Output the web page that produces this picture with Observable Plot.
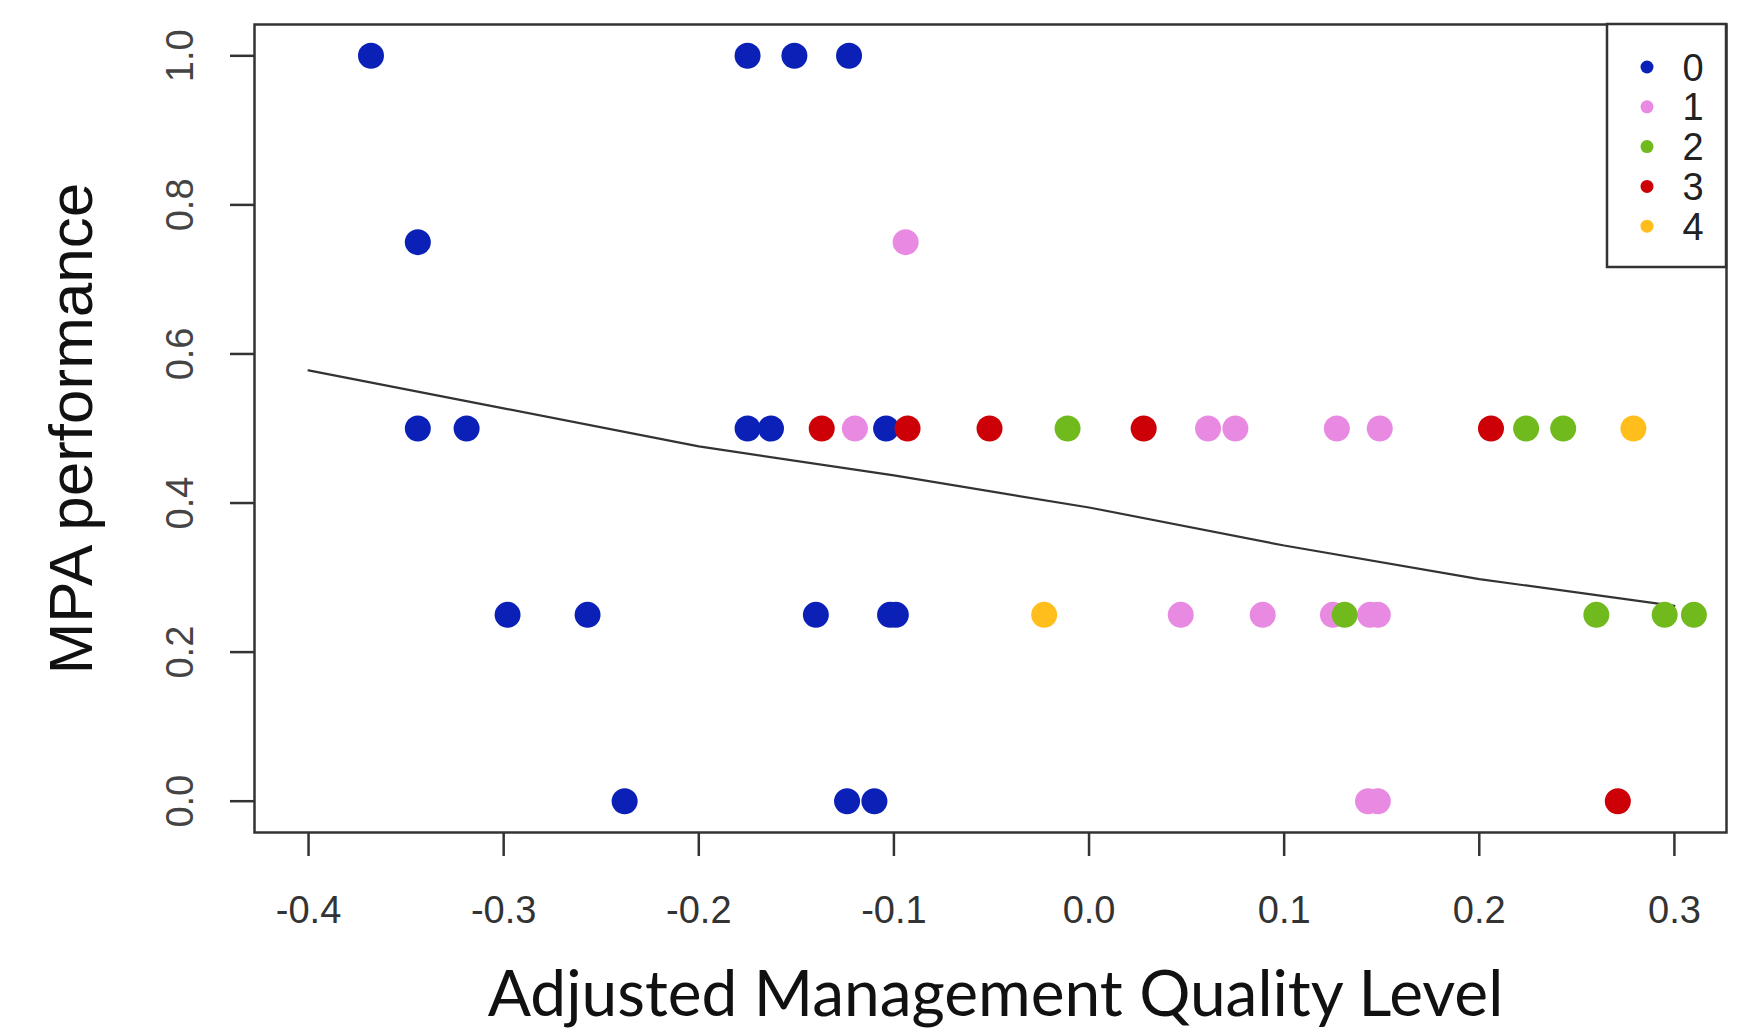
<!DOCTYPE html>
<html>
<head>
<meta charset="utf-8">
<script src="https://cdn.jsdelivr.net/npm/d3@7"></script>
<script src="https://cdn.jsdelivr.net/npm/@observablehq/plot@0.6"></script>
<style>
  html, body { margin: 0; padding: 0; background: #fff; }
  #chart svg { display: block; }
</style>
</head>
<body>
<div id="chart"></div>
<script>
// ---- data ----
const groups = ["0", "1", "2", "3", "4"];
const groupColors = ["#0a20b6", "#e88ae2", "#70ba1e", "#cc0006", "#ffbe1c"];

const group0X = [-0.368, -0.175, -0.151, -0.123, -0.344, -0.344, -0.319, -0.175, -0.163, -0.104, -0.298, -0.257, -0.140, -0.102, -0.099, -0.238, -0.124, -0.110];
const group0Y = [1, 1, 1, 1, 0.75, 0.5, 0.5, 0.5, 0.5, 0.5, 0.25, 0.25, 0.25, 0.25, 0.25, 0, 0, 0];

const group1X = [-0.094, -0.120, 0.061, 0.075, 0.127, 0.149, 0.047, 0.089, 0.125, 0.144, 0.148, 0.143, 0.148];
const group1Y = [0.75, 0.5, 0.5, 0.5, 0.5, 0.5, 0.25, 0.25, 0.25, 0.25, 0.25, 0, 0];

const group2X = [-0.011, 0.224, 0.243, 0.131, 0.260, 0.295, 0.310];
const group2Y = [0.5, 0.5, 0.5, 0.25, 0.25, 0.25, 0.25];

const group3X = [-0.137, -0.093, -0.051, 0.028, 0.206, 0.271];
const group3Y = [0.5, 0.5, 0.5, 0.5, 0.5, 0];

const group4X = [0.279, -0.023];
const group4Y = [0.5, 0.25];

const trendX = [-0.4, -0.3, -0.2, -0.1, 0.0, 0.1, 0.2, 0.3];
const trendY = [0.578, 0.527, 0.476, 0.437, 0.394, 0.343, 0.298, 0.262];

const xTicks = [-0.4, -0.3, -0.2, -0.1, 0.0, 0.1, 0.2, 0.3];
const yTicks = [0.0, 0.2, 0.4, 0.6, 0.8, 1.0];

const xTitle = "Adjusted Management Quality Level";
const yTitle = "MPA performance";

// ---- build tables ----
const groupX = [group0X, group1X, group2X, group3X, group4X];
const groupY = [group0Y, group1Y, group2Y, group3Y, group4Y];
const points = [];
groups.forEach((g, gi) => {
  groupX[gi].forEach((x, i) => points.push({x, y: groupY[gi][i], group: g}));
});
const trend = trendX.map((x, i) => ({x, y: trendY[i]}));
const fmt = d => d.toFixed(1);

const plot = Plot.plot({
  width: 1746,
  height: 1034,
  marginLeft: 254,
  marginRight: 20,
  marginTop: 24,
  marginBottom: 202,
  style: {background: "#fff", fontFamily: "'Liberation Sans', Arial, sans-serif"},
  x: {domain: [-0.4277, 0.3267]},
  y: {domain: [-0.042, 1.042]},
  color: {domain: groups, range: groupColors},
  marks: [
    Plot.axisX({ticks: xTicks, tickSize: 24, tickPadding: 40, tickFormat: fmt, fontSize: 38, color: "#333", strokeWidth: 2.5, label: null}),
    Plot.axisY({ticks: yTicks, tickSize: 24, tickFormat: () => "", color: "#333", strokeWidth: 2.5, label: null}),
    Plot.text(yTicks, {y: d => d, text: fmt, frameAnchor: "left", dx: -74, rotate: -90, fontSize: 38, fill: "#444", textAnchor: "middle", lineAnchor: "middle"}),
    Plot.line(trend, {x: "x", y: "y", stroke: "#333", strokeWidth: 2.2}),
    Plot.dot(points, {x: "x", y: "y", fill: "group", r: 13}),
    Plot.frame({stroke: "#333", strokeWidth: 2.5}),
    Plot.text([xTitle], {text: d => d, frameAnchor: "bottom", dx: 5, dy: 163, textAnchor: "middle", lineAnchor: "middle", fontSize: 64, fontFamily: "Lato, 'Open Sans', sans-serif", fill: "#111"}),
    Plot.text([yTitle], {text: d => d, frameAnchor: "left", dx: -182, rotate: -90, textAnchor: "middle", lineAnchor: "middle", fontSize: 62, fill: "#111"})
  ]
});

document.getElementById("chart").appendChild(plot);

// ---- legend (drawn inside the svg, anchored to the top-right of the frame) ----
const svg = d3.select(plot);
const frameRight = 1746 - 20, frameTop = 24;
const lw = 119, lh = 243;
const lg = svg.append("g");
lg.append("rect")
  .attr("x", frameRight - lw).attr("y", frameTop)
  .attr("width", lw).attr("height", lh)
  .attr("fill", "#fff").attr("stroke", "#333").attr("stroke-width", 2.5);
groups.forEach((g, i) => {
  const cy = frameTop + 43 + i * 39.8;
  lg.append("circle").attr("cx", frameRight - lw + 40).attr("cy", cy).attr("r", 6.5).attr("fill", groupColors[i]);
  lg.append("text").attr("x", frameRight - lw + 86).attr("y", cy).attr("dy", "0.36em")
    .attr("text-anchor", "middle").attr("font-size", 38).attr("fill", "#222")
    .attr("font-family", "'Liberation Sans', Arial, sans-serif").text(g);
});
</script>
</body>
</html>
